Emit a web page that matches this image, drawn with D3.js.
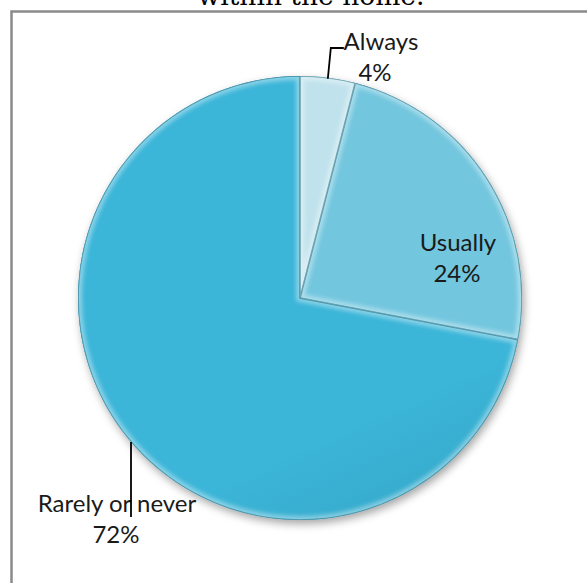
<!DOCTYPE html>
<html>
<head>
<meta charset="utf-8">
<script src="https://cdn.jsdelivr.net/npm/d3@7"></script>
<style>
  html, body { margin: 0; padding: 0; background: #fff; }
  svg { display: block; }
</style>
</head>
<body>
<script>
// Responses and their shares (percent)
const categories = ["Always", "Usually", "Rarely or never"];
const values = [4, 24, 72];
const valueLabels = ["4%", "24%", "72%"];
const titleText = "within the home.";

const W = 587, H = 583;
const cx = 300, cy = 298, R = 222;

const topColors = ["#c0e2ec", "#72c6de", "#3bb5d8"];
const bottomColors = ["#9fcfdf", "#55abc6", "#27829c"];

const svg = d3.select("body").append("svg").attr("width", W).attr("height", H);
const defs = svg.append("defs");

// soft shadow under the pie
const sh = defs.append("filter").attr("id", "shadow")
  .attr("x", "-20%").attr("y", "-20%").attr("width", "140%").attr("height", "140%");
sh.append("feDropShadow").attr("dx", 2).attr("dy", 4).attr("stdDeviation", 4)
  .attr("flood-color", "#000").attr("flood-opacity", 0.35);

const glow = defs.append("filter").attr("id", "bevel");
glow.append("feGaussianBlur").attr("stdDeviation", 2.2);

categories.forEach((c, i) => {
  const g = defs.append("linearGradient").attr("id", "grad" + i)
    .attr("gradientUnits", "userSpaceOnUse")
    .attr("x1", cx - R * 0.6).attr("y1", cy - R).attr("x2", cx + R * 0.3).attr("y2", cy + R);
  g.append("stop").attr("offset", "0%").attr("stop-color", topColors[i]);
  g.append("stop").attr("offset", "100%").attr("stop-color", bottomColors[i]);
});

// title, partly above the top edge of the frame
svg.append("text")
  .attr("x", 311).attr("y", 5)
  .attr("text-anchor", "middle")
  .attr("font-family", "DejaVu Serif")
  .attr("font-size", 26.5)
  .attr("fill", "#000")
  .text(titleText);

svg.append("path")
  .attr("d", `M11.5,${H} L11.5,11.5 L${W},11.5`)
  .attr("fill", "none").attr("stroke", "#8a8a8a").attr("stroke-width", 2.5);

const pie = d3.pie().sort(null).value(d => d)(values);
const arc = d3.arc().innerRadius(0).outerRadius(R);

const pieG = svg.append("g").attr("transform", `translate(${cx},${cy})`);

// shadow layer
pieG.append("circle").attr("r", R).attr("fill", "#27829c").attr("filter", "url(#shadow)");

pie.forEach((d, i) => {
  const id = "clip" + i;
  defs.append("clipPath").attr("id", id)
    .append("path").attr("d", arc(d)).attr("transform", `translate(${cx},${cy})`);
  pieG.append("path").attr("d", arc(d)).attr("fill", `url(#grad${i})`);
  // bevel: light inner band and a dark rim along the slice edges
  const bg = svg.append("g").attr("clip-path", `url(#${id})`);
  bg.append("path").attr("d", arc(d)).attr("transform", `translate(${cx},${cy})`)
    .attr("fill", "none").attr("stroke", "#ffffff").attr("stroke-opacity", 0.4)
    .attr("stroke-width", 8).attr("filter", "url(#bevel)");
  bg.append("path").attr("d", arc(d)).attr("transform", `translate(${cx},${cy})`)
    .attr("fill", "none").attr("stroke", "#1d6479").attr("stroke-opacity", 0.55)
    .attr("stroke-width", 1.6);
});

// labels
const font = "Lato, 'Open Sans', sans-serif";
const fs = 24;
const lineGap = 31;
const labelPos = [
  { x: 381, y: 50, vx: 375 },
  { x: 458, y: 251, vx: 457 },
  { x: 117, y: 512, vx: 116 }
];
categories.forEach((c, i) => {
  const p = labelPos[i];
  const t = svg.append("text").attr("font-family", font).attr("font-size", fs)
    .attr("fill", "#1a1a1a").attr("text-anchor", "middle");
  t.append("tspan").attr("x", p.x).attr("y", p.y).text(c);
  t.append("tspan").attr("x", p.vx).attr("y", p.y + lineGap).text(valueLabels[i]);
});

// leader lines
const a0 = (pie[0].startAngle + pie[0].endAngle) / 2;
const ex0 = cx + Math.sin(a0) * R, ey0 = cy - Math.cos(a0) * R;
svg.append("polyline")
  .attr("points", `${ex0},${ey0 + 1} ${ex0 + 3},48 ${ex0 + 16},48`)
  .attr("fill", "none").attr("stroke", "#000").attr("stroke-width", 1.8);

const lx = 131;
const ly = cy + Math.sqrt(R * R - (lx - cx) * (lx - cx));
svg.append("line")
  .attr("x1", lx).attr("y1", ly).attr("x2", lx).attr("y2", 517)
  .attr("stroke", "#000").attr("stroke-width", 1.8);
</script>
</body>
</html>
